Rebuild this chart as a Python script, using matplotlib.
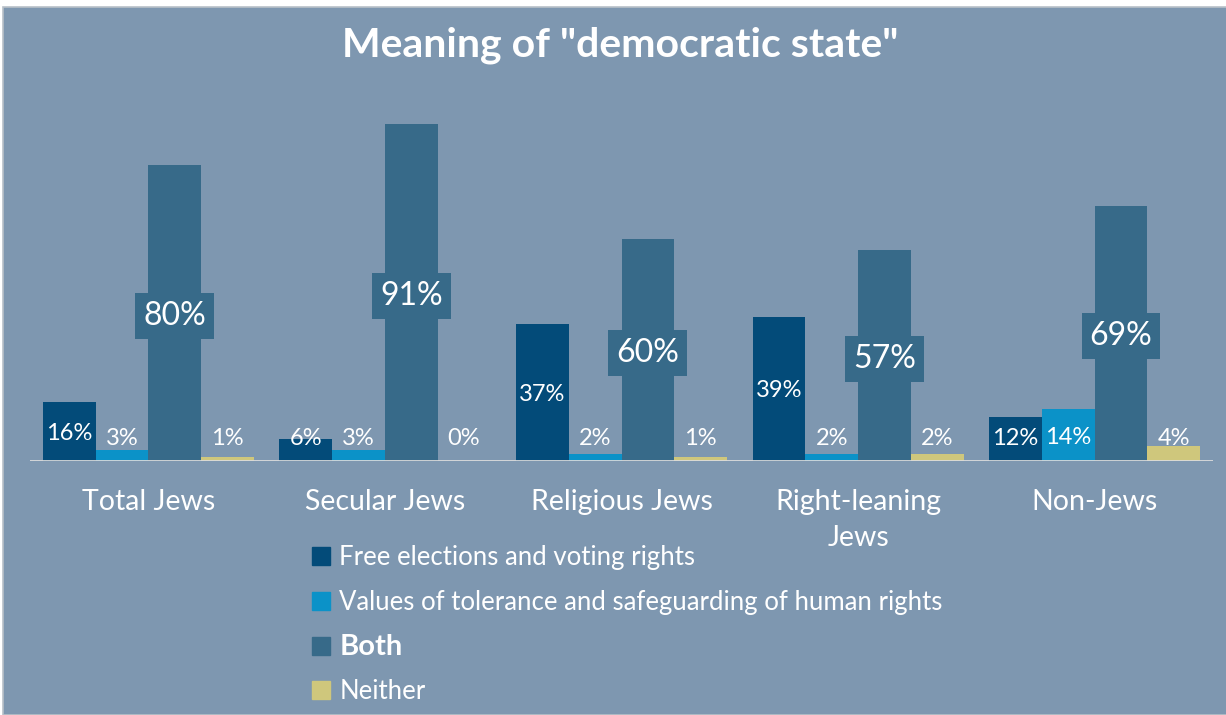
import numpy as np
import matplotlib
matplotlib.use("Agg")
import matplotlib.pyplot as plt
from matplotlib.patches import Rectangle

categories = ["Total Jews", "Secular Jews", "Religious Jews", "Right-leaning\nJews", "Non-Jews"]
series_names = ["Free elections and voting rights",
                "Values of tolerance and safeguarding of human rights",
                "Both",
                "Neither"]
free_elections = [16, 6, 37, 39, 12]
tolerance = [3, 3, 2, 2, 14]
both = [80, 91, 60, 57, 69]
neither = [1, 0, 1, 2, 4]

BG = "#7e97b0"
colors = ["#034b79", "#0b92c8", "#376a89", "#cfc77c"]

plt.rcParams["font.family"] = ["Lato", "DejaVu Sans"]

fig = plt.figure(figsize=(12.26, 7.15), dpi=100, facecolor="white")
fig.patches.append(Rectangle((3 / 1226, 0), 1, 1 - 7 / 715, transform=fig.transFigure,
                             facecolor=BG, edgecolor="#b8c0c8", lw=1.2, zorder=-5))

ax = fig.add_axes([30 / 1226, 1 - 461 / 715, 1183 / 1226, 370 / 715])
ax.set_facecolor("none")
ax.set_zorder(2)

x = np.arange(len(categories))
w = 0.223
all_series = [free_elections, tolerance, both, neither]
for i, (vals, c) in enumerate(zip(all_series, colors)):
    xs = x + (i - 1.5) * w
    ax.bar(xs, vals, w, color=c, zorder=2)
    for xi, v in zip(xs, vals):
        if i == 2:
            ax.text(xi, v / 2, f"{v}%", ha="center", va="center_baseline", color="white",
                    fontsize=23, zorder=4,
                    bbox=dict(boxstyle="square,pad=0.25", fc=c, ec="none"))
        else:
            ax.text(xi, max(v / 2, 6.7), f"{v}%", ha="center", va="center_baseline",
                    color="white", fontsize=17, zorder=4)

ax.set_xlim(-0.5, len(categories) - 0.5)
ax.set_ylim(0, 100)
ax.axhline(0, color="#dcdcdc", lw=2, zorder=3)
for s in ax.spines.values():
    s.set_visible(False)
ax.set_yticks([])
ax.set_xticks(x)
ax.set_xticklabels(categories, fontsize=20.5, color="white", linespacing=1.5)
ax.tick_params(axis="x", length=0, pad=20)

fig.text(620 / 1226, 1 - 45 / 715, 'Meaning of "democratic state"', ha="center", va="center",
         color="white", fontsize=29.5, fontweight="bold")

handles = [Rectangle((0, 0), 1, 1, color=c) for c in colors]
leg = fig.legend(handles, series_names, loc="upper left",
                 bbox_to_anchor=(302 / 1226, 1 - 535 / 715), frameon=False,
                 fontsize=18.5, handlelength=0.7, handleheight=0.7, handletextpad=0.35,
                 labelspacing=0.75, borderaxespad=0)
for t in leg.get_texts():
    t.set_color("white")
leg.get_texts()[2].set_fontweight("bold")
leg.get_texts()[2].set_fontsize(21)

fig.savefig("out.png", dpi=100, facecolor=fig.get_facecolor())
